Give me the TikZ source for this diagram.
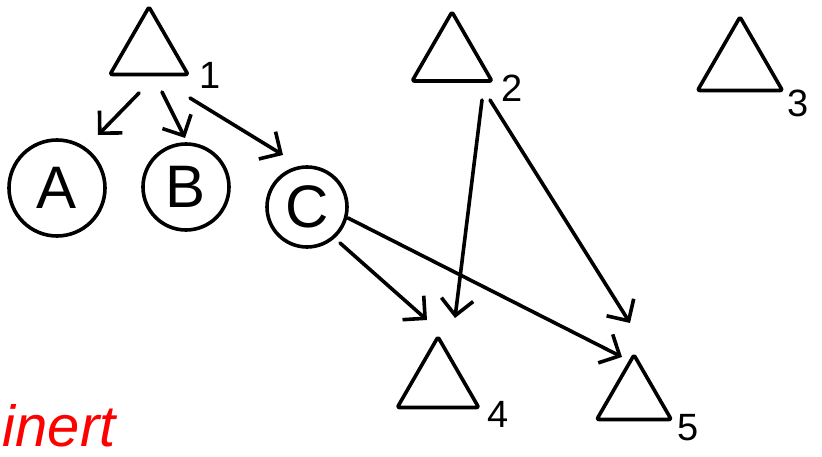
\documentclass[tikz,border=0pt]{standalone}
\usepackage{fontspec}
\setmainfont{Liberation Sans}
\usetikzlibrary{shapes.geometric,arrows.meta,calc}
\begin{document}
\begin{tikzpicture}[x=1pt,y=-1pt, line width=3.6pt, line join=round, line cap=round,
  tri/.style={draw, regular polygon, regular polygon sides=3, minimum size=#1, inner sep=0pt, rounded corners=2pt},
  circ/.style={draw, circle, minimum size=#1, inner sep=0pt, font=\fontsize{60}{60}\selectfont},
  num/.style={font=\fontsize{38}{38}\selectfont, inner sep=0pt},
  arr/.style={-{Straight Barb[length=16pt,width=32pt]}}]
\fill[white] (0,0) rectangle (822,457);
\useasboundingbox (0,0) rectangle (822,457);
% triangles
\node[tri=90] (t1) at (149,52) {};
\node[tri=92] (t2) at (452,58) {};
\node[tri=98] (t3) at (740,66) {};
\node[tri=94] (t4) at (438,384) {};
\node[tri=86] (t5) at (634,398) {};
% labels
\node[num] (l1) at (210,75) {1};
\node[num] (l2) at (512,88) {2};
\node[num] (l3) at (798,103) {3};
\node[num] (l4) at (498,414) {4};
\node[num] (l5) at (688,428) {5};
% circles
\node[circ=96] (a) at (57,188) {A};
\node[circ=86] (b) at (186,187) {B};
\node[circ=80] (c) at (307,207) {C};
% arrows
\draw[arr] ($(t1)+(-10,41)$) -- ($(a)+(41,-53)$);
\draw[arr] ($(t1)+(13,40)$) -- ($(b)+(-1,-49)$);
\draw[arr] ($(t1)+(41,46)$) -- ($(c)+(-24,-52)$);
\draw[arr] ($(t2)+(30,42)$) -- ($(t4)+(17,-66)$);
\draw[arr] ($(t2)+(38,42)$) -- ($(t5)+(-4,-75)$);
\draw[arr] ($(c)+(33,36)$) -- ($(t4)+(-11,-64)$);
\draw[arr] ($(c)+(41,11)$) -- ($(t5)+(-12,-41)$);
% red text
\node[anchor=base west, red, inner sep=0pt, font=\fontsize{58}{58}\selectfont\itshape] (txt) at (1,446) {inert};
\end{tikzpicture}
\end{document}
